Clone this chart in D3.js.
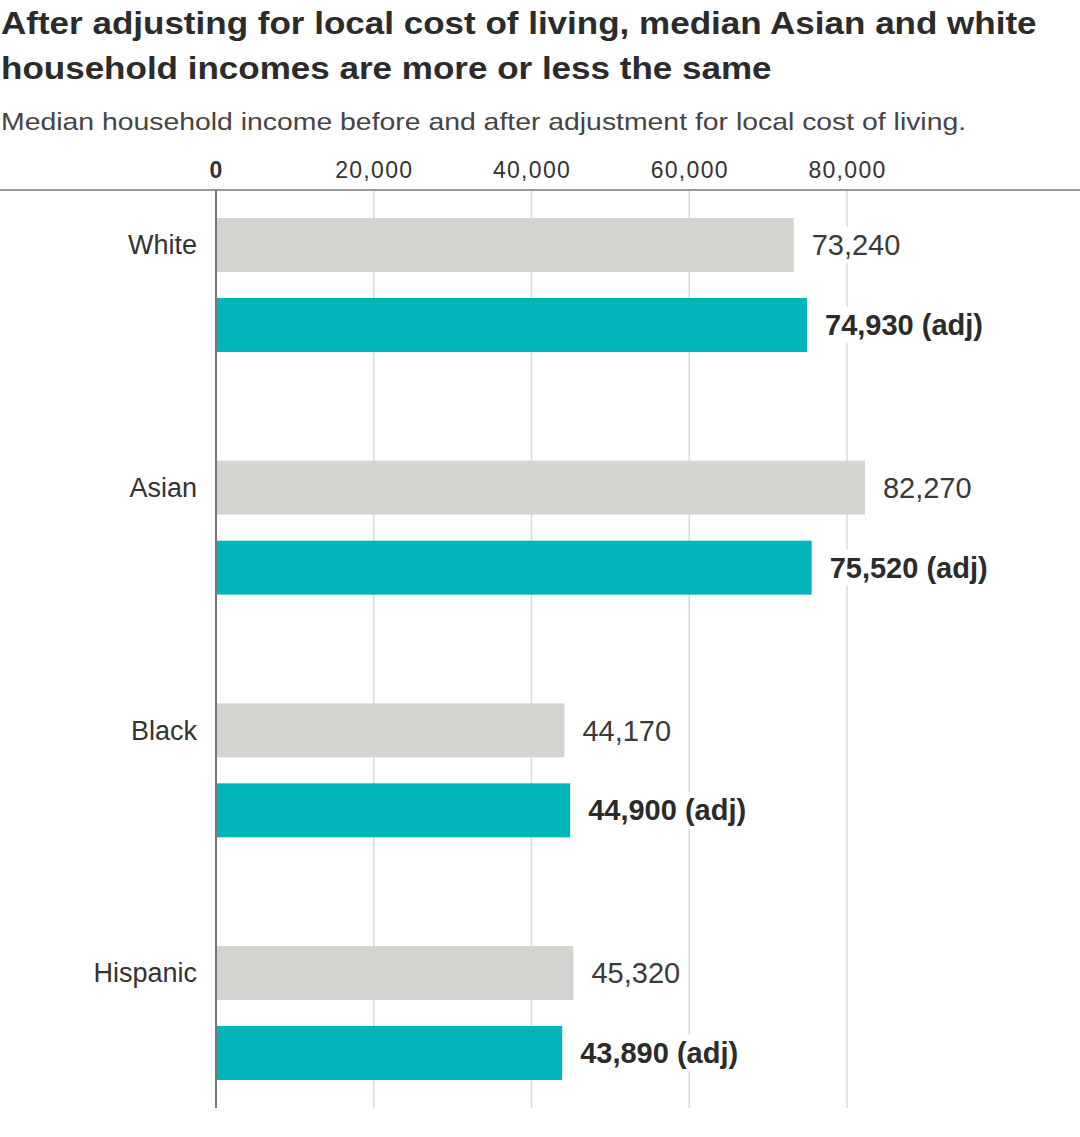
<!DOCTYPE html>
<html>
<head>
<meta charset="utf-8">
<script src="https://cdn.jsdelivr.net/npm/d3@7"></script>
<style>
  html, body { margin: 0; padding: 0; background: #fff; }
  svg { display: block; }
</style>
</head>
<body>
<svg id="chart" width="1080" height="1137"></svg>
<script>
const categories = ["White", "Asian", "Black", "Hispanic"];
const beforeValues = [73240, 82270, 44170, 45320];
const adjustedValues = [74930, 75520, 44900, 43890];
const tickValues = [0, 20000, 40000, 60000, 80000];
const titleLines = [
  "After adjusting for local cost of living, median Asian and white",
  "household incomes are more or less the same"
];
const subtitle = "Median household income before and after adjustment for local cost of living.";

const FONT = "'Liberation Sans', Arial, sans-serif";
const svg = d3.select("#chart");
const fmt = d3.format(",");

const x = d3.scaleLinear().domain([0, 80000]).range([216, 847]);
const y = d3.scaleBand().domain(categories).range([218, 1080]).paddingInner(0.448).paddingOuter(0);
const ySub = d3.scaleBand().domain(["before", "after"]).range([0, y.bandwidth()]).paddingInner(0.325).paddingOuter(0);

// Titles (horizontally stretched to mimic the wide headline face)
const titleG = svg.append("g");
const titles = titleG.selectAll("text.title").data(titleLines).join("text")
  .attr("class", "title")
  .attr("x", 0).attr("y", (d, i) => 34 + i * 45)
  .attr("font-family", FONT)
  .attr("font-weight", 700).attr("font-size", 30.5)
  .attr("fill", "#2b2b2b")
  .text(d => d);
const tw = titles.node().getComputedTextLength();
titleG.attr("transform", `translate(1,0) scale(${1036 / tw},1)`);

const subG = svg.append("g");
const sub = subG.append("text")
  .attr("x", 0).attr("y", 130)
  .attr("font-family", FONT)
  .attr("font-size", 24)
  .attr("fill", "#444")
  .text(subtitle);
const sw = sub.node().getComputedTextLength();
subG.attr("transform", `translate(1,0) scale(${966 / sw},1)`);

// Gridlines
svg.append("g").selectAll("line").data(tickValues.filter(d => d > 0)).join("line")
  .attr("x1", d => x(d)).attr("x2", d => x(d))
  .attr("y1", 190).attr("y2", 1108)
  .attr("stroke", "#dadada").attr("stroke-width", 1.5);

// Top axis with tick labels
const axis = d3.axisTop(x).tickValues(tickValues).tickFormat(fmt).tickSize(0).tickPadding(0);
const axisG = svg.append("g").attr("transform", "translate(0,178)").call(axis);
axisG.select(".domain").remove();
axisG.selectAll("text")
  .attr("font-family", FONT)
  .attr("font-size", 23).attr("font-weight", d => d === 0 ? 700 : 400)
  .attr("letter-spacing", 1.3)
  .attr("fill", "#333").attr("dy", 0);

// Horizontal rule
svg.append("line").attr("x1", 0).attr("x2", 1080).attr("y1", 190).attr("y2", 190)
  .attr("stroke", "#999").attr("stroke-width", 2);

// Bars
const rows = categories.map((c, i) => ({ cat: c, before: beforeValues[i], after: adjustedValues[i] }));
const groups = svg.append("g").selectAll("g").data(rows).join("g")
  .attr("transform", d => `translate(0,${y(d.cat)})`);

groups.append("rect")
  .attr("x", x(0)).attr("y", ySub("before"))
  .attr("width", d => x(d.before) - x(0)).attr("height", ySub.bandwidth())
  .attr("fill", "#d4d4d1");
groups.append("rect")
  .attr("x", x(0)).attr("y", ySub("after"))
  .attr("width", d => x(d.after) - x(0)).attr("height", ySub.bandwidth())
  .attr("fill", "#00b6b9");

// Category labels
groups.append("text")
  .attr("x", 197).attr("y", ySub("before") + ySub.bandwidth() / 2)
  .attr("dy", "0.35em").attr("text-anchor", "end")
  .attr("font-family", FONT)
  .attr("font-size", 27).attr("fill", "#333")
  .text(d => d.cat);

// Value labels with white backgrounds
function valueLabel(sel, key, bold, suffix) {
  const t = sel.append("text")
    .attr("x", d => x(d[key]) + 18)
    .attr("y", ySub(key) + ySub.bandwidth() / 2)
    .attr("dy", "0.35em")
    .attr("font-family", FONT)
    .attr("font-size", 29).attr("font-weight", bold ? 700 : 400)
    .attr("fill", bold ? "#2b2b2b" : "#3a3a3a")
    .text(d => fmt(d[key]) + suffix);
  t.each(function () {
    const b = this.getBBox();
    d3.select(this.parentNode).insert("rect", () => this)
      .attr("x", b.x - 4).attr("y", b.y - 2)
      .attr("width", b.width + 8).attr("height", b.height + 4)
      .attr("fill", "#fff");
  });
}
valueLabel(groups, "before", false, "");
valueLabel(groups, "after", true, " (adj)");

// Vertical axis line at zero
svg.append("line").attr("x1", x(0)).attr("x2", x(0)).attr("y1", 190).attr("y2", 1108)
  .attr("stroke", "#777").attr("stroke-width", 2);
</script>
</body>
</html>
